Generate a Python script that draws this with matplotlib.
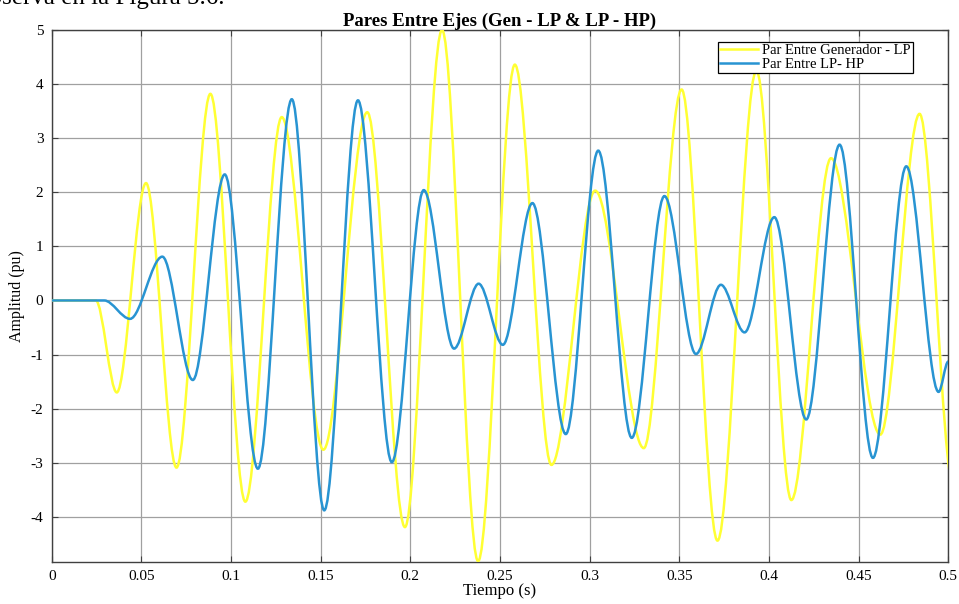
import matplotlib
matplotlib.use("Agg")
import matplotlib.pyplot as plt
from matplotlib.path import Path
import matplotlib.patches as patches
from matplotlib.lines import Line2D

# extrema (time in s, amplitude in pu)
t_gen = [0, 0.0246, 0.0363, 0.0526, 0.0696, 0.0885, 0.108, 0.1283, 0.1515,
         0.176, 0.197, 0.2177, 0.2378, 0.2583, 0.2787, 0.3031, 0.3302,
         0.3513, 0.3713, 0.393, 0.4125, 0.4346, 0.4621, 0.484, 0.503]
v_gen = [0, 0, -1.70, 2.17, -3.09, 3.82, -3.72, 3.39, -2.76,
         3.48, -4.19, 5.0, -4.82, 4.36, -3.04, 2.03, -2.73,
         3.90, -4.44, 4.25, -3.69, 2.63, -2.48, 3.45, -3.45]

t_lp = [0, 0.0293, 0.0437, 0.0617, 0.0787, 0.0965, 0.115, 0.1339, 0.152,
        0.1708, 0.1897, 0.2075, 0.2244, 0.2381, 0.2516, 0.2681, 0.2867,
        0.3048, 0.3235, 0.3417, 0.3593, 0.3732, 0.3864, 0.403, 0.4208,
        0.4394, 0.458, 0.4766, 0.4946, 0.5]
v_lp = [0, 0, -0.34, 0.81, -1.47, 2.33, -3.11, 3.72, -3.88,
        3.70, -2.99, 2.04, -0.89, 0.31, -0.82, 1.80, -2.47,
        2.77, -2.54, 1.93, -0.99, 0.29, -0.59, 1.54, -2.20,
        2.88, -2.91, 2.48, -1.69, -1.13]

labels = ["Par Entre Generador - LP", "Par Entre LP- HP"]
colors = ["#ffff33", "#2894d2"]

x_ticks = [0, 0.05, 0.1, 0.15, 0.2, 0.25, 0.3, 0.35, 0.4, 0.45, 0.5]
x_ticklabels = ["0", "0.05", "0.1", "0.15", "0.2", "0.25", "0.3", "0.35",
                "0.4", "0.45", "0.5"]
y_ticks = [-4, -3, -2, -1, 0, 1, 2, 3, 4, 5]

plt.rcParams['font.family'] = ['Liberation Serif', 'DejaVu Serif']
plt.rcParams['axes.unicode_minus'] = False


def smooth_path(t, v):
    # cubic segments with flat tangents at each extremum
    verts = [(t[0], v[0])]
    codes = [Path.MOVETO]
    for i in range(1, len(t)):
        dt = t[i] - t[i - 1]
        verts += [(t[i - 1] + dt / 3, v[i - 1]), (t[i] - dt / 3, v[i]),
                  (t[i], v[i])]
        codes += [Path.CURVE4] * 3
    return Path(verts, codes)


fig = plt.figure(figsize=(9.59, 6.04), dpi=100)
ax = fig.add_axes([0.0539, 0.0700, 0.9349, 0.8803])

for t, v, c in [(t_gen, v_gen, colors[0]), (t_lp, v_lp, colors[1])]:
    patch = patches.PathPatch(smooth_path(t, v), facecolor='none',
                              edgecolor=c, lw=1.8, zorder=3)
    ax.add_patch(patch)

ax.set_xlim(0, 0.5)
ax.set_ylim(-4.83, 5)
ax.set_xticks(x_ticks)
ax.set_xticklabels(x_ticklabels)
ax.set_yticks(y_ticks)
ax.tick_params(direction='in', top=True, right=True, labelsize=11,
               length=4, color='#404040', pad=6)
ax.grid(True, color='#a0a0a0', lw=0.9)
ax.set_axisbelow(True)
for s in ax.spines.values():
    s.set_color('#404040')
    s.set_linewidth(1.0)

ax.set_title("Pares Entre Ejes (Gen - LP & LP - HP)", fontsize=13.5,
             fontweight='bold', pad=3)
ax.set_xlabel("Tiempo (s)", fontsize=12, labelpad=0)
ax.set_ylabel("Amplitud (pu)", fontsize=11.5, labelpad=4)

handles = [Line2D([], [], color=colors[0], lw=1.8),
           Line2D([], [], color=colors[1], lw=1.8)]
leg = ax.legend(handles, labels, loc='upper right',
                bbox_to_anchor=(0.9606, 0.9774), borderaxespad=0,
                fancybox=False, framealpha=1, edgecolor='black',
                fontsize=10.5, handlelength=2.6, labelspacing=0.0,
                borderpad=0.15, handletextpad=0.3)
leg.get_frame().set_linewidth(0.9)

# cut-off line of the surrounding document text
fig.text(225 / 959, 1 - 4 / 604, "se observa en la Figura 5.6.",
         ha='right', va='baseline', fontsize=18)

fig.savefig("out.png", dpi=100)
